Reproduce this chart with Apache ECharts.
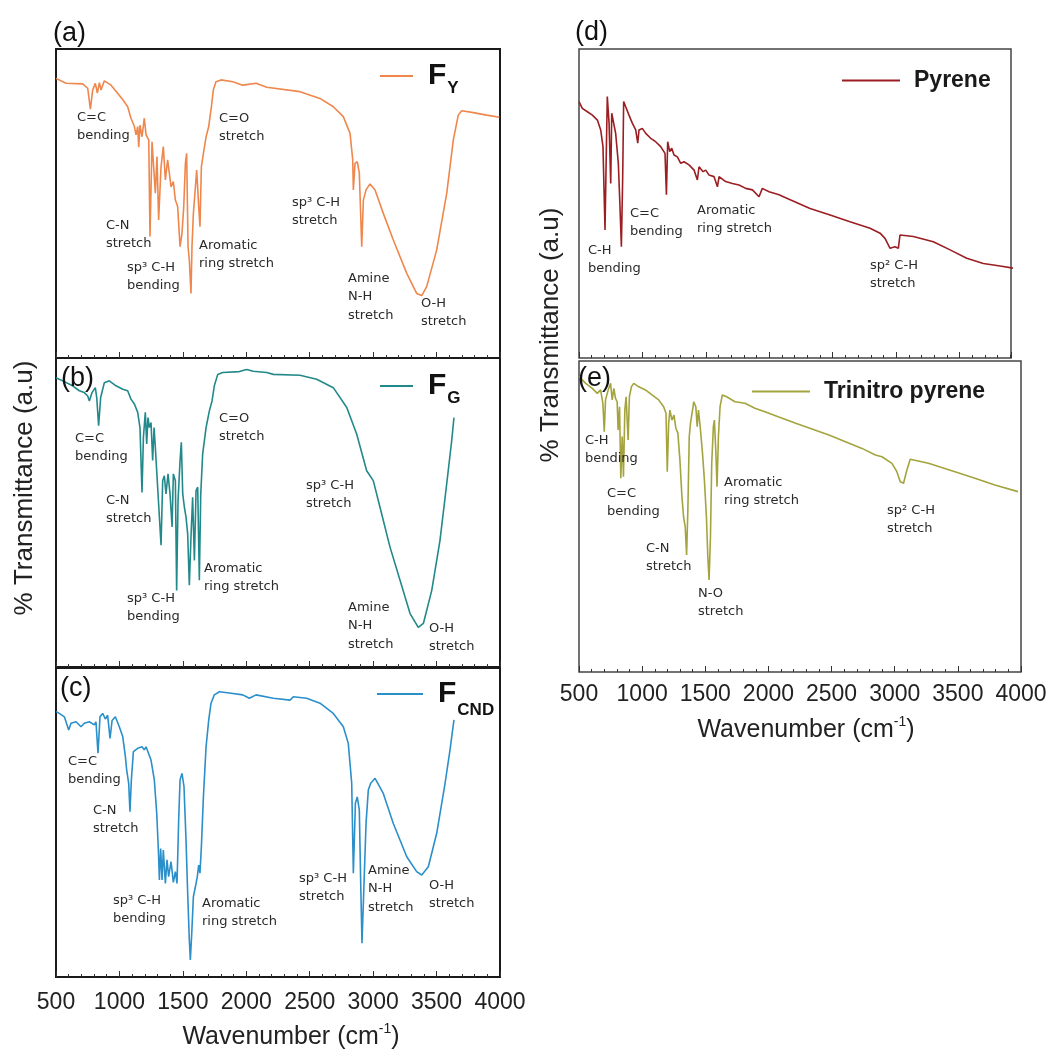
<!DOCTYPE html>
<html>
<head>
<meta charset="utf-8">
<script src="https://cdn.jsdelivr.net/npm/echarts@6/dist/echarts.min.js"></script>
<style>
html,body{margin:0;padding:0;background:#fff;}
#chart{width:1057px;height:1052px;}
</style>
</head>
<body>
<div id="chart"></div>
<script>
// ---------- data: [wavenumber (cm-1), transmittance (a.u.)] ----------
const xTicks = [500, 1000, 1500, 2000, 2500, 3000, 3500, 4000];

const FY = [[500,90.5],[579,88.9],[710,88.7],[750,87.3],[771,80.5],[789,86.7],[810,88.9],[826,85.7],[842,89.1],[855,86.7],[881,89.7],[934,88.3],[986,85.7],[1039,82.9],[1065,81.3],[1091,77.6],[1118,74.9],[1131,72.2],[1144,74.9],[1152,68.2],[1162,75.4],[1178,71.6],[1196,77.6],[1210,72.2],[1231,70.6],[1241,39.3],[1257,70.0],[1270,69.5],[1283,53.3],[1296,65.2],[1309,44.7],[1328,61.9],[1346,68.4],[1362,57.6],[1380,64.1],[1407,55.4],[1425,57.1],[1441,51.1],[1459,49.0],[1478,36.0],[1493,40.3],[1507,49.0],[1520,63.0],[1530,66.2],[1541,36.0],[1551,31.7],[1564,20.9],[1572,36.0],[1583,46.8],[1599,55.4],[1609,60.8],[1625,49.0],[1635,42.5],[1646,61.9],[1662,66.2],[1683,71.6],[1704,74.9],[1714,78.1],[1725,81.3],[1740,86.7],[1761,89.4],[1801,90.0],[1893,89.4],[1972,88.3],[2077,88.9],[2161,87.6],[2423,86.2],[2581,84.0],[2686,81.3],[2765,78.1],[2818,72.7],[2839,64.1],[2844,54.4],[2857,63.0],[2875,63.5],[2891,59.8],[2910,36.0],[2923,51.1],[2944,54.4],[2975,56.3],[3015,54.4],[3080,46.8],[3159,38.2],[3265,27.4],[3343,20.9],[3383,20.2],[3422,23.1],[3501,35.0],[3580,53.3],[3632,70.6],[3671,78.6],[3698,80.0],[3790,79.4],[3895,78.6],[3995,77.9]];

const FG = [[500,93.6],[553,92.6],[631,91.0],[684,89.4],[723,88.8],[750,87.7],[763,86.1],[784,88.8],[810,90.4],[821,87.2],[836,78.1],[852,87.2],[881,92.0],[920,92.6],[973,91.0],[1026,89.9],[1065,89.4],[1091,86.7],[1118,85.1],[1144,82.4],[1162,77.5],[1178,56.5],[1189,74.3],[1204,82.4],[1215,72.2],[1225,80.7],[1236,77.5],[1249,79.1],[1262,66.8],[1273,77.5],[1283,71.1],[1296,61.9],[1309,62.5],[1328,39.4],[1341,60.3],[1354,61.9],[1367,56.0],[1383,62.5],[1399,56.0],[1415,45.3],[1425,62.5],[1441,60.3],[1451,24.8],[1462,53.9],[1478,66.8],[1488,72.7],[1499,56.0],[1512,51.7],[1525,48.5],[1538,43.1],[1551,26.5],[1564,42.0],[1577,54.9],[1591,34.5],[1604,57.1],[1617,58.2],[1630,28.1],[1641,56.0],[1656,68.9],[1683,77.5],[1709,82.9],[1730,86.1],[1748,91.0],[1775,94.7],[1814,95.3],[1945,95.6],[2003,96.3],[2055,95.7],[2161,95.3],[2213,94.7],[2423,94.4],[2555,93.1],[2686,90.4],[2792,84.0],[2870,75.4],[2949,63.5],[3001,60.3],[3054,51.7],[3133,38.8],[3212,28.1],[3291,17.3],[3356,12.8],[3396,14.1],[3462,24.8],[3527,41.0],[3580,59.3],[3619,73.2],[3637,80.7]];

const FCND = [[500,85.9],[526,85.3],[566,84.2],[600,79.9],[618,82.1],[658,82.6],[697,81.0],[723,82.1],[763,82.6],[802,81.6],[815,82.6],[831,72.4],[847,84.2],[868,85.3],[889,83.5],[907,84.7],[926,77.2],[942,83.0],[968,84.2],[999,81.0],[1026,77.8],[1047,71.3],[1057,67.0],[1073,62.7],[1083,53.5],[1094,63.8],[1110,72.9],[1144,74.0],[1178,74.5],[1196,73.5],[1210,74.5],[1249,70.2],[1275,63.8],[1294,53.0],[1307,41.1],[1315,31.4],[1325,41.6],[1336,31.4],[1346,41.1],[1362,30.3],[1375,37.9],[1388,32.5],[1407,37.3],[1425,30.6],[1441,34.1],[1454,30.3],[1467,50.8],[1478,63.8],[1493,65.9],[1509,61.6],[1525,44.3],[1538,27.1],[1551,12.0],[1559,5.5],[1570,14.1],[1583,26.0],[1599,29.2],[1614,32.5],[1625,36.2],[1635,33.6],[1646,42.2],[1662,58.3],[1683,74.5],[1704,83.2],[1722,88.6],[1748,91.3],[1788,92.3],[1867,91.9],[1972,91.3],[2024,90.2],[2077,91.3],[2213,90.2],[2345,89.6],[2371,90.7],[2476,90.2],[2581,88.6],[2686,85.3],[2765,81.0],[2804,75.6],[2831,62.7],[2844,33.6],[2860,56.2],[2875,58.3],[2891,54.0],[2902,30.3],[2912,10.9],[2928,30.3],[2944,49.7],[2962,60.5],[2981,62.7],[3015,64.3],[3080,59.4],[3159,49.7],[3265,38.9],[3343,34.1],[3383,33.0],[3435,35.7],[3501,46.5],[3567,62.7],[3606,73.5],[3637,83.2]];

const PYRENE = [[500,83.0],[526,80.8],[566,79.7],[605,78.6],[645,77.0],[671,73.8],[689,68.4],[705,41.4],[716,68.4],[723,84.6],[737,76.0],[750,56.5],[758,79.2],[768,78.6],[789,72.7],[810,63.0],[823,49.0],[834,36.0],[844,57.6],[852,83.0],[868,81.3],[894,78.6],[920,76.0],[947,73.8],[963,69.5],[973,73.8],[999,74.3],[1026,72.7],[1065,71.1],[1104,70.0],[1144,68.4],[1178,66.2],[1189,52.8],[1199,70.0],[1215,66.8],[1231,67.9],[1249,65.7],[1275,65.1],[1302,63.0],[1328,63.5],[1367,62.5],[1407,60.8],[1433,57.6],[1446,61.9],[1478,60.3],[1499,60.8],[1525,59.2],[1564,58.7],[1591,55.4],[1604,58.7],[1656,57.1],[1709,56.5],[1761,56.0],[1814,54.9],[1867,54.4],[1919,52.2],[1945,54.9],[1998,53.8],[2077,52.8],[2111,52.2],[2321,48.4],[2479,46.3],[2636,44.1],[2794,42.0],[2873,40.4],[2912,38.7],[2952,35.5],[2991,36.0],[3017,35.5],[3030,39.8],[3135,39.3],[3293,37.6],[3425,35.0],[3556,32.3],[3687,30.6],[3819,29.8],[3976,28.7]];

const TRINITRO = [[500,95.0],[553,92.8],[605,91.2],[645,89.6],[671,90.7],[689,86.4],[700,77.3],[710,87.5],[731,90.7],[750,92.8],[763,87.5],[776,91.2],[789,88.0],[802,86.9],[810,77.8],[821,85.3],[831,62.3],[842,75.7],[852,62.8],[863,84.2],[873,88.5],[889,74.6],[899,88.5],[915,91.7],[934,92.8],[973,91.7],[1026,90.7],[1078,89.1],[1131,87.5],[1170,85.3],[1189,83.2],[1199,64.4],[1210,80.0],[1220,84.2],[1236,81.0],[1252,82.6],[1267,78.4],[1283,76.8],[1299,68.2],[1315,56.4],[1328,49.9],[1341,46.7],[1352,37.6],[1362,52.1],[1373,75.7],[1383,80.0],[1399,84.2],[1409,86.9],[1425,85.3],[1436,78.9],[1446,84.2],[1462,77.8],[1478,70.3],[1493,61.7],[1509,49.9],[1520,37.1],[1530,29.6],[1541,43.5],[1551,67.1],[1564,78.9],[1572,81.0],[1583,71.4],[1593,59.6],[1604,75.7],[1617,85.3],[1635,89.1],[1669,88.5],[1735,86.9],[1814,86.4],[1893,84.8],[1972,83.7],[2077,82.1],[2216,80.0],[2479,76.2],[2741,71.9],[2847,69.8],[2899,69.2],[2978,67.1],[3017,64.4],[3044,61.2],[3070,60.7],[3096,64.9],[3123,68.4],[3267,67.1],[3477,64.4],[3635,62.3],[3793,60.1],[3976,58.0]];

const seriesNames = ['FY', 'FG', 'FCND', 'Pyrene', 'Trinitro pyrene'];
const panelLetters = ['(a)', '(b)', '(c)', '(d)', '(e)'];

// ---------- peak annotation texts (layout positions kept separately) ----------
const annotations = [
  ['C=C\nbending', 77, 112], ['C-N\nstretch', 106, 220], ['sp³ C-H\nbending', 127, 262],
  ['Aromatic\nring stretch', 199, 240], ['C=O\nstretch', 219, 113], ['sp³ C-H\nstretch', 292, 197],
  ['Amine\nN-H\nstretch', 348, 273], ['O-H\nstretch', 421, 298],

  ['C=C\nbending', 75, 433], ['C-N\nstretch', 106, 495], ['sp³ C-H\nbending', 127, 593],
  ['Aromatic\nring stretch', 204, 563], ['C=O\nstretch', 219, 413], ['sp³ C-H\nstretch', 306, 480],
  ['Amine\nN-H\nstretch', 348, 602], ['O-H\nstretch', 429, 623],

  ['C=C\nbending', 68, 756], ['C-N\nstretch', 93, 805], ['sp³ C-H\nbending', 113, 895],
  ['Aromatic\nring stretch', 202, 898], ['sp³ C-H\nstretch', 299, 873],
  ['Amine\nN-H\nstretch', 368, 865], ['O-H\nstretch', 429, 880],

  ['C-H\nbending', 588, 245], ['C=C\nbending', 630, 208], ['Aromatic\nring stretch', 697, 205],
  ['sp² C-H\nstretch', 870, 260],

  ['C-H\nbending', 585, 435], ['C=C\nbending', 607, 488], ['C-N\nstretch', 646, 543],
  ['N-O\nstretch', 698, 588], ['Aromatic\nring stretch', 724, 477], ['sp² C-H\nstretch', 887, 505]
];

// ---------- layout ----------
const grids = [
  {left: 56, top: 49, width: 444, height: 309},
  {left: 56, top: 358, width: 444, height: 309},
  {left: 56, top: 668, width: 444, height: 309},
  {left: 579, top: 49, width: 432, height: 309},
  {left: 579, top: 361, width: 442, height: 311}
];
const xMax = [4000, 4000, 4000, 3905, 4000];
const colors = ['#EF874C', '#22898A', '#2B8FCA', '#9A1E22', '#A4A43E'];
const borderColors = ['#1a1a1a', '#1a1a1a', '#1a1a1a', '#444', '#444'];
const showLabels = [false, false, true, false, true];
const labelMargin = [14, 14, 14, 11, 11];
const allData = [FY, FG, FCND, PYRENE, TRINITRO];

const tickColor = '#333';
const option = {
  animation: false,
  backgroundColor: '#fff',
  grid: grids.map((g, i) => Object.assign({}, g, {
    show: true, borderColor: borderColors[i], borderWidth: i < 3 ? 2 : 1.5, backgroundColor: 'transparent'
  })),
  xAxis: grids.map((g, i) => ({
    type: 'value', gridIndex: i, min: 500, max: xMax[i], interval: 500,
    axisLine: {show: false},
    axisTick: {show: true, inside: true, length: 6, lineStyle: {color: tickColor, width: 1}},
    minorTick: {show: true, splitNumber: 5, length: 3, lineStyle: {color: tickColor, width: 1}},
    splitLine: {show: false}, minorSplitLine: {show: false},
    axisLabel: {show: showLabels[i], fontSize: 23, color: '#222', fontFamily: 'Liberation Sans', margin: labelMargin[i],
      customValues: xTicks, formatter: v => String(v)}
  })),
  yAxis: grids.map((g, i) => ({
    type: 'value', gridIndex: i, min: 0, max: 100, show: false
  })),
  legend: [
    {data: ['FY'], left: 380, top: 61, name: 'F', sub: 'Y', pad: 24},
    {data: ['FG'], left: 380, top: 371, name: 'F', sub: 'G', pad: 24},
    {data: ['FCND'], left: 377, top: 679, name: 'F', sub: 'CND', pad: 32}
  ].map(l => ({
    data: l.data, left: l.left, top: l.top, padding: 0, selectedMode: false,
    icon: 'rect', itemWidth: l.data[0] === 'FCND' ? 46 : 33, itemHeight: 2,
    formatter: () => '{f|' + l.name + '}{s|' + l.sub + '}',
    textStyle: {
      rich: {
        f: {fontSize: 30, fontWeight: 'bold', fontFamily: 'Liberation Sans', color: '#111', padding: [0, 0, 0, 10]},
        s: {fontSize: 17, fontWeight: 'bold', fontFamily: 'Liberation Sans', color: '#111', padding: [l.pad, 0, 0, 1]}
      }
    }
  })).concat([
    {data: ['Pyrene'], left: 842, top: 69, itemWidth: 58},
    {data: ['Trinitro pyrene'], left: 752, top: 380, itemWidth: 58}
  ].map(l => ({
    data: l.data, left: l.left, top: l.top, padding: 0, selectedMode: false,
    icon: 'rect', itemWidth: l.itemWidth, itemHeight: 2,
    formatter: name => '{t|' + name + '}',
    textStyle: {rich: {t: {fontSize: 23, fontWeight: 'bold', fontFamily: 'Liberation Sans', color: '#1a1a1a', padding: [0, 0, 0, 9]}}}
  }))),
  series: allData.map((d, i) => ({
    name: seriesNames[i], type: 'line', xAxisIndex: i, yAxisIndex: i,
    data: d, showSymbol: false, symbol: 'none', clip: i !== 3,
    lineStyle: {color: colors[i], width: 1.6}, itemStyle: {color: colors[i]},
    emphasis: {disabled: true}
  })),
  graphic: []
};

// panel letters
const letterPos = [[53, 34], [61, 379], [60, 689], [575, 33], [578, 379]];
panelLetters.forEach((t, i) => {
  option.graphic.push({type: 'text', x: letterPos[i][0], y: letterPos[i][1], z: 10,
    style: {text: t, font: '27px "Liberation Sans"', fill: '#111', textVerticalAlign: 'middle', verticalAlign: 'middle'}});
});
// annotations
annotations.forEach(a => {
  option.graphic.push({type: 'text', x: a[1], y: a[2] - 4, z: 10,
    style: {text: a[0], font: '13px "DejaVu Sans"', fill: '#2a2a2a', lineHeight: 18.5,
      textVerticalAlign: 'top', verticalAlign: 'top'}});
});
// axis titles
option.graphic.push(
  {type: 'text', x: 25, y: 488, rotation: Math.PI / 2,
   style: {text: '% Transmittance (a.u)', font: '26px "Liberation Sans"', fill: '#222',
     textAlign: 'center', align: 'center', textVerticalAlign: 'middle', verticalAlign: 'middle'}},
  {type: 'text', x: 551, y: 335, rotation: Math.PI / 2,
   style: {text: '% Transmittance (a.u)', font: '26px "Liberation Sans"', fill: '#222',
     textAlign: 'center', align: 'center', textVerticalAlign: 'middle', verticalAlign: 'middle'}},
  {type: 'text', x: 291, y: 1037,
   style: {text: 'Wavenumber (cm{s|-1})', font: '25px "Liberation Sans"', fill: '#222',
     textAlign: 'center', align: 'center', textVerticalAlign: 'middle', verticalAlign: 'middle',
     rich: {s: {fontSize: 14, fontFamily: 'Liberation Sans', fill: '#222', padding: [0, 0, 16, 0]}}}},
  {type: 'text', x: 806, y: 730,
   style: {text: 'Wavenumber (cm{s|-1})', font: '25px "Liberation Sans"', fill: '#222',
     textAlign: 'center', align: 'center', textVerticalAlign: 'middle', verticalAlign: 'middle',
     rich: {s: {fontSize: 14, fontFamily: 'Liberation Sans', fill: '#222', padding: [0, 0, 16, 0]}}}}
);

const chart = echarts.init(document.getElementById('chart'), null, {renderer: 'canvas'});
chart.setOption(option);
</script>
</body>
</html>
